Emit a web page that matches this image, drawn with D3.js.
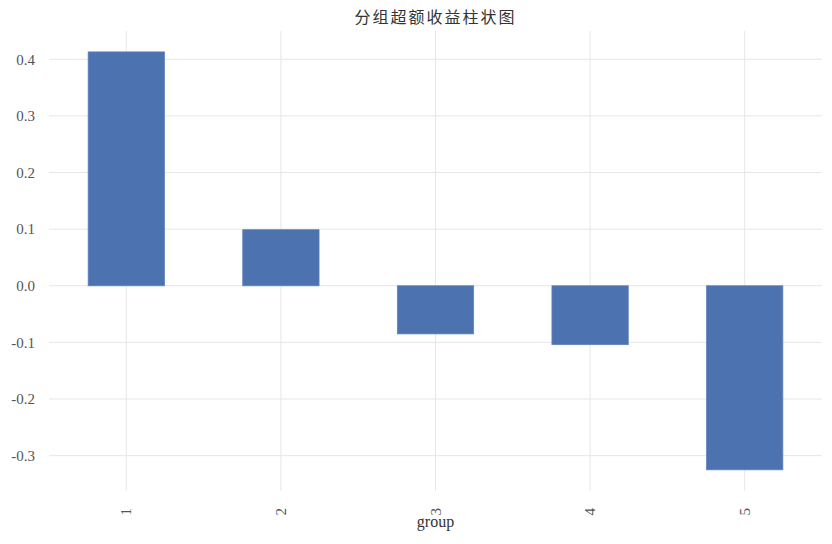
<!DOCTYPE html>
<html>
<head>
<meta charset="utf-8">
<script src="https://cdn.jsdelivr.net/npm/d3@7"></script>
<style>
  body { margin: 0; background: #fff; }
</style>
</head>
<body>
<div id="chart"></div>
<script>

// --- data ---
var groups = ["1", "2", "3", "4", "5"];
var excess = [0.413, 0.099, -0.085, -0.104, -0.325];
var yTicks = [-0.3, -0.2, -0.1, 0.0, 0.1, 0.2, 0.3, 0.4];
var title = "分组超额收益柱状图";
var xLabel = "group";

function draw_bars(place) {

    // --- look ---
    var bar_col = "#4c72b0",
        grid_col = "#e6e6e6",
        text_col = "#555555",
        serif = '"Liberation Serif", "DejaVu Serif", serif';

    var W = 832, H = 544;

    // --- plot area ---
    var left = 49, right = 822, top = 31, bottom = 490.7;

    var svg = d3.select(place)
        .append("svg")
        .attr("width", W)
        .attr("height", H);

    // matplotlib style: 5% margin round the data
    var lo = d3.min(excess), hi = d3.max(excess),
        pad = (hi - lo) * 0.05;

    var yScale = d3.scaleLinear()
        .domain([lo - pad, hi + pad])
        .range([bottom, top]);

    // pandas bar plot: categories at 0..n-1, limits -0.5 .. n-0.5
    var xScale = d3.scaleLinear()
        .domain([-0.5, groups.length - 0.5])
        .range([left, right]);

    var bar_w = xScale(0.5) - xScale(0);

    // ==== grid ====
    svg.append("g").selectAll("line.h")
        .data(yTicks)
        .join("line")
        .attr("x1", left)
        .attr("x2", right)
        .attr("y1", d => yScale(d))
        .attr("y2", d => yScale(d))
        .attr("stroke", grid_col)
        .attr("stroke-width", 1);

    svg.append("g").selectAll("line.v")
        .data(groups)
        .join("line")
        .attr("x1", (d, i) => xScale(i))
        .attr("x2", (d, i) => xScale(i))
        .attr("y1", top)
        .attr("y2", bottom)
        .attr("stroke", grid_col)
        .attr("stroke-width", 1);

    // ==== bars ====
    svg.append("g").selectAll("rect")
        .data(excess)
        .join("rect")
        .attr("x", (d, i) => xScale(i) - bar_w / 2 + 0.5)
        .attr("y", d => yScale(Math.max(0, d)))
        .attr("width", bar_w - 1)
        .attr("height", d => Math.abs(yScale(d) - yScale(0)))
        .attr("fill", bar_col)
        .attr("stroke", "#5f82bd")
        .attr("stroke-width", 0.8);

    // ==== y tick labels ====
    svg.append("g").selectAll("text")
        .data(yTicks)
        .join("text")
        .text(d => d.toFixed(1))
        .attr("x", 35)
        .attr("y", d => yScale(d))
        .attr("dy", "0.35em")
        .attr("text-anchor", "end")
        .attr("font-family", serif)
        .attr("font-size", "15px")
        .attr("fill", text_col);

    // ==== x tick labels, turned 90 degrees ====
    svg.append("g").selectAll("text")
        .data(groups)
        .join("text")
        .text(d => d)
        .attr("transform", (d, i) => "translate(" + (xScale(i) + 5) + "," + 508 + ") rotate(-90)")
        .attr("text-anchor", "end")
        .attr("font-family", serif)
        .attr("font-size", "15px")
        .attr("fill", text_col);

    // ==== axis label ====
    svg.append("text")
        .text(xLabel)
        .attr("x", (left + right) / 2)
        .attr("y", 527)
        .attr("text-anchor", "middle")
        .attr("font-family", serif)
        .attr("font-size", "16px")
        .attr("fill", "#333333");

    // ==== title ====
    svg.append("text")
        .text(title)
        .attr("x", (left + right) / 2)
        .attr("y", 23)
        .attr("text-anchor", "middle")
        .attr("font-family", '"Noto Sans CJK SC", sans-serif')
        .attr("font-weight", 400)
        .attr("font-size", "16px")
        .attr("letter-spacing", "2px")
        .attr("fill", "#333333");
}

draw_bars("#chart");
</script>
</body>
</html>
